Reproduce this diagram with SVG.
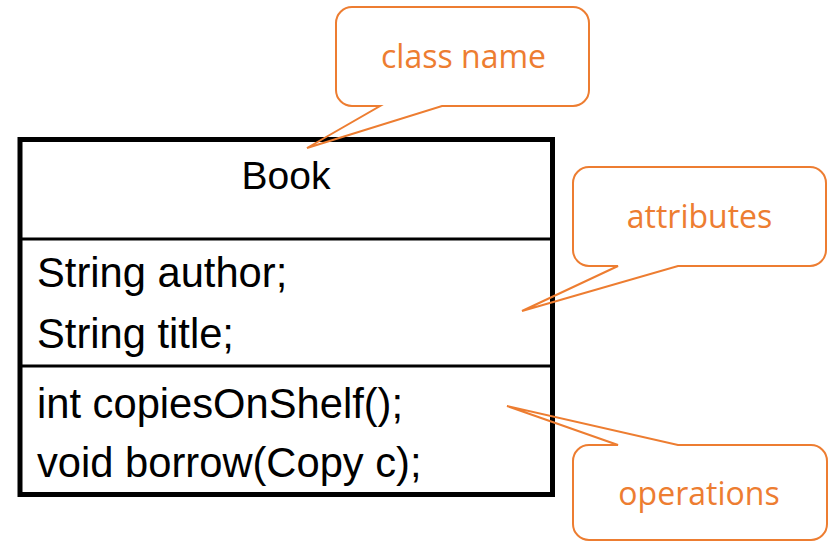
<svg xmlns="http://www.w3.org/2000/svg" width="829" height="542" viewBox="0 0 829 542">
<style>
.box{fill:#fff;stroke:#000;stroke-width:5}
.div{stroke:#000;stroke-width:3}
.t{font-family:"Liberation Sans",Arial,sans-serif;fill:#000}
.call{fill:none;stroke:#ED7D31;stroke-width:2;stroke-linejoin:miter}
.ct{font-family:"Open Sans","Noto Sans",sans-serif;font-size:32px;fill:#ED7D31;text-anchor:middle}
</style>
<rect width="829" height="542" fill="#fff"/>
<g id="class-book">
<rect class="box" x="20" y="139.5" width="532.5" height="355"/>
<line class="div" x1="20" y1="239" x2="552.5" y2="239"/>
<line class="div" x1="20" y1="366" x2="552.5" y2="366"/>
<text class="t" x="286" y="189" font-size="39" text-anchor="middle">Book</text>
<text class="t" x="37" y="287" font-size="41.7">String author;</text>
<text class="t" x="37" y="348" font-size="41.7">String title;</text>
<text class="t" x="37" y="418" font-size="41.7">int copiesOnShelf();</text>
<text class="t" x="37" y="477" font-size="41.7">void borrow(Copy c);</text>
</g>
<g id="connectors">
<path id="callout-classname" class="call" d="M352 7H573A16 16 0 0 1 589 23V90A16 16 0 0 1 573 106H442L307 148L380 106H352A16 16 0 0 1 336 90V23A16 16 0 0 1 352 7Z"/>
<path id="callout-attributes" class="call" d="M589 167H810A16 16 0 0 1 826 183V250A16 16 0 0 1 810 266H678L522 311L618 266H589A16 16 0 0 1 573 250V183A16 16 0 0 1 589 167Z"/>
<path id="callout-operations" class="call" d="M589 445H618L507 406L678 445H811A16 16 0 0 1 827 461V524A16 16 0 0 1 811 540H589A16 16 0 0 1 573 524V461A16 16 0 0 1 589 445Z"/>
</g>
<g id="label-classname"><text class="ct" x="463.5" y="68">class name</text></g>
<g id="label-attributes"><text class="ct" x="699.5" y="228">attributes</text></g>
<g id="label-operations"><text class="ct" x="699" y="505">operations</text></g>
</svg>
